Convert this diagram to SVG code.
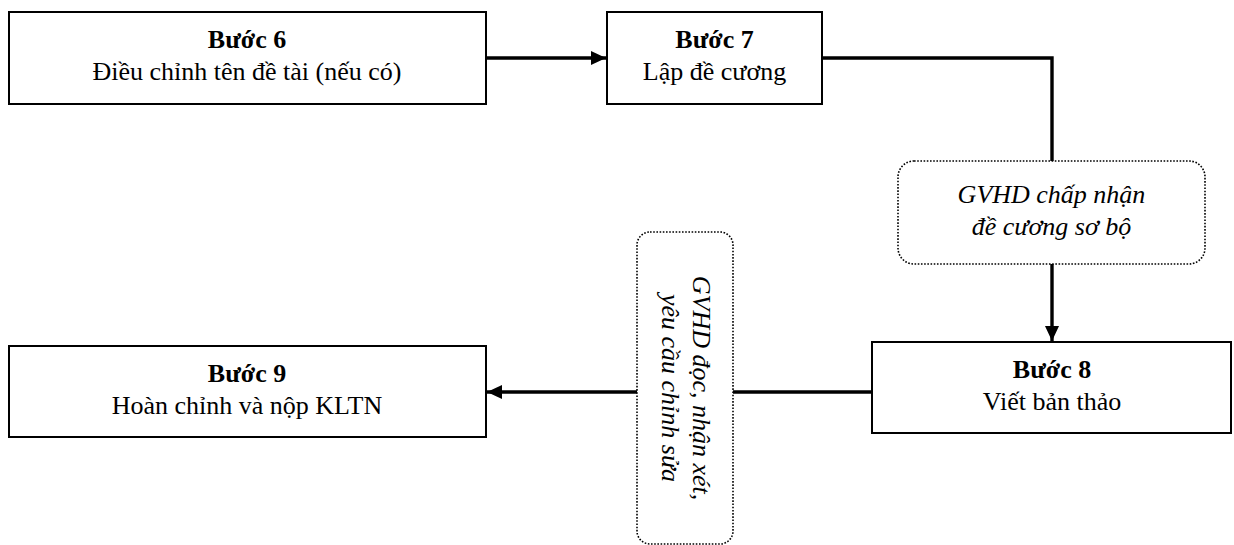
<svg xmlns="http://www.w3.org/2000/svg" width="1234" height="545" viewBox="0 0 1234 545">
<defs>
<style>
.box{fill:#fff;stroke:#000;stroke-width:2}
.note{fill:#fff;stroke:#000;stroke-width:1.6;stroke-dasharray:1.6 1.6}
.t{font-family:"Liberation Serif","Times New Roman",serif;font-size:26px;fill:#000;text-anchor:middle}
.b{font-weight:bold}
.i{font-style:italic}
.c{fill:none;stroke:#000;stroke-width:3.4}
</style>
<marker id="ah" markerWidth="15" markerHeight="14" refX="15" refY="7" orient="auto" markerUnits="userSpaceOnUse">
<path d="M0,0 L15,7 L0,14 Z" fill="#000"/>
</marker>
</defs>
<rect width="1234" height="545" fill="#fff"/>
<g id="connectors">
<path class="c" d="M486,58 L606,58" marker-end="url(#ah)"/>
<path class="c" d="M822,58 L1052,58 L1052,161"/>
<path class="c" d="M1052,264 L1052,341" marker-end="url(#ah)"/>
<path class="c" d="M872,392 L733,392"/>
<path class="c" d="M637,392 L487,392" marker-end="url(#ah)"/>
</g>
<g id="step6">
<rect class="box" x="9" y="12" width="477" height="92"/>
<text class="t b" x="247" y="48">Bước 6</text>
<text class="t" x="247" y="80">Điều chỉnh tên đề tài (nếu có)</text>
</g>
<g id="step7">
<rect class="box" x="607" y="12" width="215" height="92"/>
<text class="t b" x="714.5" y="48">Bước 7</text>
<text class="t" x="714.5" y="80">Lập đề cương</text>
</g>
<g id="note1">
<rect class="note" x="898" y="161" width="307" height="103" rx="16" ry="16"/>
<text class="t i" x="1051.5" y="203">GVHD chấp nhận</text>
<text class="t i" x="1051.5" y="235">đề cương sơ bộ</text>
</g>
<g id="step8">
<rect class="box" x="872" y="342" width="359" height="91"/>
<text class="t b" x="1052" y="378">Bước 8</text>
<text class="t" x="1052" y="410">Viết bản thảo</text>
</g>
<g id="note2">
<rect class="note" x="637" y="232" width="96" height="312" rx="13" ry="13"/>
<g transform="translate(685,388) rotate(90)">
<text class="t i" x="0" y="-8">GVHD đọc, nhận xét,</text>
<text class="t i" x="0" y="23">yêu cầu chỉnh sửa</text>
</g>
</g>
<g id="step9">
<rect class="box" x="9" y="346" width="477" height="91"/>
<text class="t b" x="247" y="382">Bước 9</text>
<text class="t" x="247" y="414">Hoàn chỉnh và nộp KLTN</text>
</g>
</svg>
